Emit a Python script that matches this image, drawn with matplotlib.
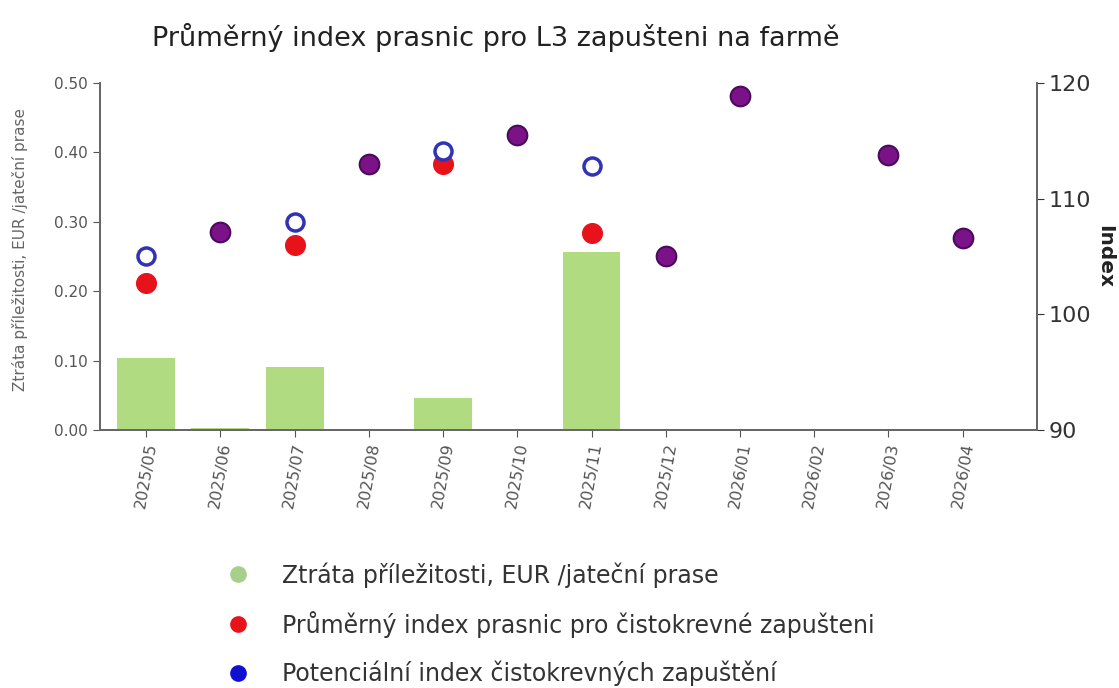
import numpy as np
import matplotlib
matplotlib.use("Agg")
import matplotlib.pyplot as plt
from matplotlib.lines import Line2D
from matplotlib.ticker import FormatStrFormatter

months = ["2025/05", "2025/06", "2025/07", "2025/08", "2025/09", "2025/10",
          "2025/11", "2025/12", "2026/01", "2026/02", "2026/03", "2026/04"]
# ztráta příležitosti (levá osa)
loss = [0.104, 0.003, 0.091, 0.0, 0.046, 0.0, 0.256, 0.0, 0.0, 0.0, 0.0, 0.0]
# průměrný index (pravá osa), NaN = bez hodnoty
avg_idx = [102.7, 107.1, 106.0, 113.0, 113.0, 115.5, 107.0, 105.0, 118.9, np.nan, 113.8, 106.6]
pot_idx = [105.0, 107.1, 108.0, 113.0, 114.1, 115.5, 112.8, 105.0, 118.9, np.nan, 113.8, 106.6]

green = "#b0db80"
red = "#e8121a"
blue = "#3232b4"
purple = "#7c1287"
grey = "#555555"

fig = plt.figure(figsize=(11.19, 6.88), dpi=100)
ax = fig.add_axes([0.0894, 0.375, 0.8373, 0.5044])
ax2 = ax.twinx()

x = np.arange(len(months))
ax.bar(x, loss, width=0.78, color=green, zorder=1)
ax.set_ylim(0, 0.5)
ax.set_xlim(-0.62, len(months) - 1 + 1.0)
ax.set_yticks([0, 0.1, 0.2, 0.3, 0.4, 0.5])
ax.yaxis.set_major_formatter(FormatStrFormatter("%.2f"))
ax.tick_params(axis="y", labelsize=11, colors=grey, length=5)
ax.set_xticks(x)
ax.set_xticklabels(months, rotation=80, fontsize=11.5, color="#555555")
ax.tick_params(axis="x", length=5, color=grey)
ax.set_ylabel("Ztráta příležitosti, EUR /jateční prase", fontsize=11, color="#666666")
ax.yaxis.set_label_coords(-0.077, 0.52)

avg = np.array(avg_idx)
pot = np.array(pot_idx)
same = np.isclose(avg, pot)
diff = ~same & ~np.isnan(avg)

ax2.scatter(x[diff], avg[diff], s=200, color=red, zorder=3)
ax2.scatter(x[diff], pot[diff], s=150, facecolor="white", edgecolor=blue, linewidth=2.5, zorder=4)
ax2.scatter(x[same], avg[same], s=200, facecolor=purple, edgecolor="#4a0a5e", linewidth=1.5, zorder=4)
ax2.set_ylim(90, 120)
ax2.set_yticks([90, 100, 110, 120])
ax2.tick_params(axis="y", labelsize=16, colors="#333333", length=5)
ax2.set_ylabel("Index", fontsize=14.5, fontweight="bold", rotation=-90, labelpad=16, color="#222222")

for a in (ax, ax2):
    a.spines["top"].set_visible(False)
    for s in ("left", "right", "bottom"):
        a.spines[s].set_color("#666666")
        a.spines[s].set_linewidth(1.3)

fig.text(0.443, 0.945, "Průměrný index prasnic pro L3 zapušteni na farmě",
         ha="center", va="center", fontsize=19.5, color="#222222")

handles = [
    Line2D([], [], marker="o", linestyle="", color="#a8cf8a", markersize=11),
    Line2D([], [], marker="o", linestyle="", color=red, markersize=11),
    Line2D([], [], marker="o", linestyle="", color="#1010d0", markersize=11),
]
labels = ["Ztráta příležitosti, EUR /jateční prase",
          "Průměrný index prasnic pro čistokrevné zapušteni",
          "Potenciální index čistokrevných zapuštění"]
leg = fig.legend(handles, labels, loc="upper left", bbox_to_anchor=(0.173, 0.214),
                 frameon=False, fontsize=17, labelspacing=0.98, handletextpad=0.86,
                 labelcolor="#333333")

fig.savefig("out.png", dpi=100)
